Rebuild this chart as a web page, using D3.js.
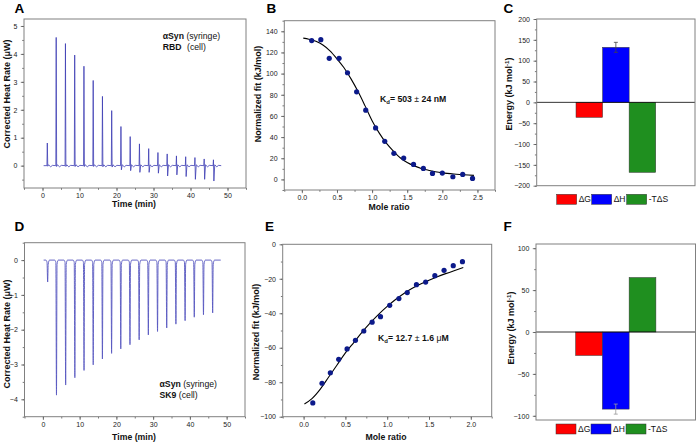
<!DOCTYPE html>
<html><head><meta charset="utf-8">
<script src="https://cdn.jsdelivr.net/npm/d3@7"></script>
<style>body{margin:0;background:#fff}svg{display:block}text{font-family:"Liberation Sans",Arial,sans-serif}</style>
</head><body><svg id="c" width="697" height="443"></svg>
<script>
// ---------- data ----------
const injTimes = [1.3,3.7,6.2,8.7,11.2,13.7,16.2,18.7,21.2,23.7,26.2,28.7,31.2,33.7,36.2,38.7,41.2,43.7,46.2];
const peaksA = [0.81,4.59,4.37,3.96,3.56,3.05,2.48,1.97,1.40,1.04,0.78,0.61,0.47,0.42,0.35,0.32,0.29,0.24,0.21];
const dipsA  = [-0.02,-0.03,-0.03,-0.03,-0.03,-0.03,-0.04,-0.05,-0.15,-0.18,-0.24,-0.24,-0.27,-0.37,-0.33,-0.39,-0.49,-0.49,-0.55];
const dipsD  = [-0.63,-3.88,-3.59,-3.38,-3.17,-3.01,-2.84,-2.68,-2.55,-2.43,-2.29,-2.15,-2.05,-1.95,-1.84,-1.74,-1.64,-1.57,-1.52];
const traceStart = 0.3, traceEnd = 48.3;

const moleB = [0.14,0.27,0.39,0.53,0.65,0.78,0.91,1.05,1.18,1.31,1.45,1.59,1.73,1.86,2.0,2.15,2.29,2.43];
const fitValB = [131.2,132.1,114.4,114.4,100.8,82.8,65.4,48.7,36.0,24.7,20.2,14.2,10.4,5.7,6.0,2.5,4.7,0.9];
const curveBx = [0.02,0.1,0.2,0.3,0.4,0.5,0.6,0.7,0.8,0.9,1.0,1.1,1.2,1.3,1.4,1.5,1.6,1.7,1.8,1.9,2.0,2.2,2.45];
const curveBy = [133.5,132.5,130.5,127,121.5,114,105.5,95,83,69.5,55.5,44,34.5,27,20.5,16,12.8,10.4,8.7,7.3,6.2,4.9,3.8];

const moleE = [0.11,0.22,0.32,0.42,0.52,0.62,0.72,0.82,0.92,1.03,1.14,1.24,1.35,1.46,1.57,1.68,1.79,1.90];
const fitValE = [-92.0,-80.6,-74.5,-66.7,-60.7,-55.7,-50.3,-45.2,-42.0,-35.4,-31.5,-28.0,-23.4,-21.9,-18.2,-15.1,-12.4,-10.1];
const curveEx = [0.01,0.1,0.2,0.3,0.4,0.5,0.6,0.7,0.8,0.9,1.0,1.1,1.2,1.3,1.4,1.5,1.6,1.7,1.8,1.91];
const curveEy = [-92.6,-89.5,-84,-77,-70,-63,-57,-51,-45.5,-40.5,-36,-32,-28.5,-25.5,-23,-20.8,-18.8,-17,-15.3,-13.5];

const energyTerms = ["ΔG","ΔH","-TΔS"];
const energyC = [-36,132,-168];
const errC = [0,12,0];
const energyF = [-28,-92,65];
const errF = [0,6,0];
const barColors = ["#ff0000","#0000ff","#1f8f1f"];

const ticksTime = [0,10,20,30,40,50];
const ticksA_y = [0,1,2,3,4,5];
const ticksD_y = [0,-1,-2,-3,-4];
const ticksB_x = [0,0.5,1,1.5,2,2.5];
const ticksB_y = [0,20,40,60,80,100,120,140];
const ticksE_x = [0,0.5,1,1.5,2];
const ticksE_y = [0,-20,-40,-60,-80,-100];
const ticksC_y = [-200,-150,-100,-50,0,50,100,150,200];
const ticksF_y = [-100,-50,0,50,100];

// ---------- helpers ----------
const svg = d3.select("#c");
svg.append("rect").attr("width",697).attr("height",443).attr("fill","#fff");
const FR = "#808080", TK = "#555", TXT = "#222";

function styleAxis(g, fs){
  g.select(".domain").remove();
  g.selectAll("line").attr("stroke",TK).attr("stroke-width",0.8);
  g.selectAll("text").attr("font-size",fs||7).attr("fill",TXT).attr("font-family","Liberation Sans, Arial, sans-serif");
}
function panel(fr, xd, yd, o){
  const x = d3.scaleLinear().domain(xd).range([fr.x0, fr.x1]);
  const y = d3.scaleLinear().domain(yd).range([fr.y1, fr.y0]);
  const g = svg.append("g");
  if (o.xMajor){
    g.append("g").attr("transform",`translate(0,${fr.y1})`)
      .call(d3.axisBottom(x).tickValues(o.xMinor).tickSize(1.8).tickFormat("")).call(a=>styleAxis(a));
    g.append("g").attr("transform",`translate(0,${fr.y1})`)
      .call(d3.axisBottom(x).tickValues(o.xMajor).tickSize(3.2).tickPadding(1.8).tickFormat(o.xFmt)).call(a=>styleAxis(a));
  }
  g.append("g").attr("transform",`translate(${fr.x0},0)`)
    .call(d3.axisLeft(y).tickValues(o.yMinor).tickSize(1.8).tickFormat("")).call(a=>styleAxis(a));
  g.append("g").attr("transform",`translate(${fr.x0},0)`)
    .call(d3.axisLeft(y).tickValues(o.yMajor).tickSize(3.2).tickPadding(3.5).tickFormat(o.yFmt)).call(a=>styleAxis(a));
  return {x,y,g,fr};
}
function frame(p){
  p.g.append("rect").attr("x",p.fr.x0).attr("y",p.fr.y0).attr("width",p.fr.x1-p.fr.x0).attr("height",p.fr.y1-p.fr.y0)
    .attr("fill","none").attr("stroke",FR).attr("stroke-width",1);
}
function ytitle(x, y, txt){
  svg.append("text").attr("transform",`translate(${x},${y}) rotate(-90)`).attr("text-anchor","middle")
    .attr("font-size",9).attr("font-weight","bold").attr("fill","#111").text(txt);
}
function xtitle(x, y, txt){
  svg.append("text").attr("x",x).attr("y",y).attr("text-anchor","middle").attr("font-size",8.7).attr("font-weight","bold").attr("fill","#111").text(txt);
}
function letter(x,y,s){
  svg.append("text").attr("x",x).attr("y",y).attr("font-size",13.5).attr("font-weight","bold").attr("fill","#000").text(s);
}
function minorRange(a,b,s){ const r=[]; for(let v=a; v<=b+1e-9; v+=s) r.push(+v.toFixed(4)); return r; }

// ---------- Panel A ----------
const pA = panel({x0:24,x1:246,y0:19,y1:188},[-5,55],[-0.8,5.25],
  {xMajor:ticksTime,xMinor:minorRange(-5,55,5),xFmt:d3.format("d"),yMajor:ticksA_y,yMinor:minorRange(-0.5,5,0.5),yFmt:d3.format("d")});
const trA = [[traceStart,0]];
injTimes.forEach((t,i)=>{
  trA.push([t-0.1,0],[t,peaksA[i]],[t+0.12,dipsA[i]],[t+0.35,0.03],[t+0.9,-0.04],[t+1.4,0.01]);
});
trA.push([traceEnd,0]);
pA.g.append("path").datum(trA).attr("fill","none").attr("stroke","#3c3cb4").attr("stroke-width",0.8)
  .attr("d",d3.line().x(d=>pA.x(d[0])).y(d=>pA.y(d[1])));
frame(pA);
const tA = svg.append("text").attr("x",162.7).attr("y",38.5).attr("font-size",8.7).attr("fill","#111");
tA.append("tspan").attr("font-weight","bold").text("αSyn");
tA.append("tspan").text(" (syringe)");
const tA2 = svg.append("text").attr("x",162.7).attr("y",49.5).attr("font-size",8.7).attr("fill","#111");
tA2.append("tspan").attr("font-weight","bold").text("RBD");
tA2.append("tspan").attr("x",187).text("(cell)");
ytitle(10,94,"Corrected Heat Rate (μW)");
xtitle(134,206.5,"Time (min)");
letter(14.5,12.5,"A");

// ---------- Panel D ----------
const pD = panel({x0:24.5,x1:245,y0:242.7,y1:416.7},[-5,55],[-4.5,0.5],
  {xMajor:ticksTime,xMinor:minorRange(-5,55,5),xFmt:d3.format("d"),yMajor:ticksD_y,yMinor:minorRange(-4.5,0.5,0.5),yFmt:d3.format("d")});
const trD = [[0.2,0]];
injTimes.forEach((t,i)=>{
  trD.push([t-0.5,0],[t-0.17,-0.06],[t,dipsD[i]],[t+0.15,-0.12],[t+0.5,0]);
});
trD.push([48.4,0]);
pD.g.append("path").datum(trD).attr("fill","none").attr("stroke","#5656c0").attr("stroke-width",0.9)
  .attr("d",d3.line().curve(d3.curveMonotoneX).x(d=>pD.x(d[0])).y(d=>pD.y(d[1])));
frame(pD);
const tD = svg.append("text").attr("x",159.5).attr("y",387).attr("font-size",8.7).attr("fill","#111");
tD.append("tspan").attr("font-weight","bold").text("αSyn");
tD.append("tspan").text(" (syringe)");
const tD2 = svg.append("text").attr("x",159.5).attr("y",397.5).attr("font-size",8.7).attr("fill","#111");
tD2.append("tspan").attr("font-weight","bold").text("SK9");
tD2.append("tspan").text(" (cell)");
ytitle(10,334,"Corrected Heat Rate (μW)");
xtitle(134,440,"Time (min)");
letter(14.5,231,"D");

// ---------- Panel B ----------
const pB = panel({x0:284.3,x1:495,y0:20.7,y1:190},[-0.25,2.75],[-10,150],
  {xMajor:ticksB_x,xMinor:minorRange(-0.25,2.75,0.25),xFmt:d3.format(".1f"),yMajor:ticksB_y,yMinor:minorRange(-10,150,10),yFmt:d3.format("d")});
pB.g.append("path").datum(curveBx.map((v,i)=>[v,curveBy[i]])).attr("fill","none").attr("stroke","#000").attr("stroke-width",1.1)
  .attr("d",d3.line().curve(d3.curveMonotoneX).x(d=>pB.x(d[0])).y(d=>pB.y(d[1])));
pB.g.selectAll("circle.b").data(moleB).join("circle").attr("cx",d=>pB.x(d)).attr("cy",(d,i)=>pB.y(fitValB[i]))
  .attr("r",2.6).attr("fill","#0c1a8a");
frame(pB);
const kB = svg.append("text").attr("x",380).attr("y",102).attr("font-size",8.7).attr("font-weight","bold").attr("fill","#111");
kB.append("tspan").text("K");
kB.append("tspan").attr("font-size",6).attr("dy",2).text("d");
kB.append("tspan").attr("dy",-2).text("= 503 ");
kB.append("tspan").attr("font-weight","normal").text("±");
kB.append("tspan").text(" 24 nM");
ytitle(261,94,"Normalized fit (kJ/mol)");
xtitle(389,209.5,"Mole ratio");
letter(266.5,12.5,"B");

// ---------- Panel E ----------
const pE = panel({x0:282.7,x1:491.7,y0:244.3,y1:416.7},[-0.25,2.25],[-100,0],
  {xMajor:ticksE_x,xMinor:minorRange(-0.25,2.25,0.25),xFmt:d3.format(".1f"),yMajor:ticksE_y,yMinor:minorRange(-100,0,10),yFmt:d3.format("d")});
pE.g.append("path").datum(curveEx.map((v,i)=>[v,curveEy[i]])).attr("fill","none").attr("stroke","#000").attr("stroke-width",1.1)
  .attr("d",d3.line().curve(d3.curveMonotoneX).x(d=>pE.x(d[0])).y(d=>pE.y(d[1])));
pE.g.selectAll("circle.e").data(moleE).join("circle").attr("cx",d=>pE.x(d)).attr("cy",(d,i)=>pE.y(fitValE[i]))
  .attr("r",2.6).attr("fill","#0c1a8a");
frame(pE);
const kE = svg.append("text").attr("x",378).attr("y",341).attr("font-size",8.7).attr("font-weight","bold").attr("fill","#111");
kE.append("tspan").text("K");
kE.append("tspan").attr("font-size",6).attr("dy",2).text("d");
kE.append("tspan").attr("dy",-2).text("= 12.7 ");
kE.append("tspan").attr("font-weight","normal").text("±");
kE.append("tspan").text(" 1.6 ");
kE.append("tspan").attr("font-weight","normal").text("μ");
kE.append("tspan").text("M");
ytitle(259,332,"Normalized fit (kJ/mol)");
xtitle(386,440,"Mole ratio");
letter(265,231,"E");

// ---------- Panels C & F ----------
function energyPanel(fr, yd, yMajor, yMinorStep, vals, errs, errColor, legY, titleX, titleY){
  const p = panel(fr,[0,1],yd,{yMajor:yMajor,yMinor:minorRange(yd[0]<-150? -200 : -100, yd[1]>150?200:100, yMinorStep),yFmt:d3.format("d")});
  const xb = d3.scaleBand().domain(energyTerms).range([fr.x0,fr.x1]).paddingInner(0).paddingOuter(1.48);
  p.g.selectAll("rect.bar").data(vals).join("rect")
    .attr("x",(d,i)=>xb(energyTerms[i])).attr("width",xb.bandwidth())
    .attr("y",d=>p.y(Math.max(0,d))).attr("height",d=>Math.abs(p.y(d)-p.y(0)))
    .attr("fill",(d,i)=>barColors[i]).attr("stroke","#333").attr("stroke-width",0.5);
  p.g.append("line").attr("x1",fr.x0).attr("x2",fr.x1).attr("y1",p.y(0)).attr("y2",p.y(0)).attr("stroke","#000").attr("stroke-width",0.8);
  vals.forEach((v,i)=>{
    if(!errs[i]) return;
    const cx = xb(energyTerms[i])+xb.bandwidth()/2;
    const s = Math.sign(v);
    p.g.append("line").attr("x1",cx).attr("x2",cx).attr("y1",p.y(v-s*errs[i])).attr("y2",p.y(v+s*errs[i])).attr("stroke",errColor).attr("stroke-width",0.8);
    [v-errs[i],v+errs[i]].forEach(e=>p.g.append("line").attr("x1",cx-2).attr("x2",cx+2).attr("y1",p.y(e)).attr("y2",p.y(e)).attr("stroke",errColor).attr("stroke-width",0.8));
  });
  frame(p);
  const lg = svg.append("g");
  const lx = [fr.x0+20, fr.x0+55, fr.x0+90];
  energyTerms.forEach((t,i)=>{
    lg.append("rect").attr("x",lx[i]).attr("y",legY-5).attr("width",20).attr("height",10).attr("fill",barColors[i]).attr("stroke","#333").attr("stroke-width",0.5);
    lg.append("text").attr("x",lx[i]+22).attr("y",legY+3).attr("font-size",8.5).attr("fill","#111").text(t);
  });
  const t = svg.append("text").attr("transform",`translate(${titleX},${titleY}) rotate(-90)`).attr("text-anchor","middle")
    .attr("font-size",9).attr("font-weight","bold").attr("fill","#111").text("Energy (kJ mol");
  t.append("tspan").attr("font-size",6).attr("dy",-3.5).text("-1");
  t.append("tspan").attr("dy",3.5).text(")");
  return p;
}
energyPanel({x0:536.7,x1:695,y0:19,y1:185.7},[-200,200],ticksC_y,25,energyC,errC,"#444",199.3,512,94);
letter(503.5,12.5,"C");
energyPanel({x0:536,x1:695.5,y0:244,y1:420},[-105,105],ticksF_y,25,energyF,errF,"#999",429,514,328);
letter(503.5,231,"F");
</script></body></html>
